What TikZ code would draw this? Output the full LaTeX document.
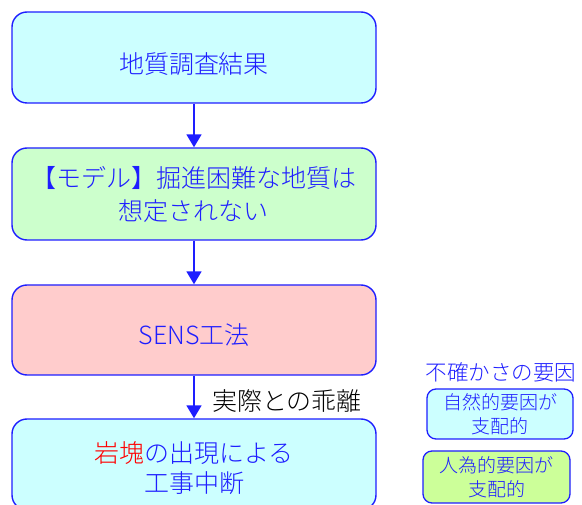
\documentclass[tikz,border=0pt]{standalone}
\usepackage{fontspec}
\setmainfont{Noto Sans CJK JP}[UprightFont=* Light]
\usetikzlibrary{arrows.meta}
\definecolor{bblue}{RGB}{30,30,255}
\definecolor{cyanfill}{RGB}{204,255,255}
\definecolor{greenfill}{RGB}{204,255,204}
\definecolor{pinkfill}{RGB}{255,204,204}
\definecolor{limefill}{RGB}{204,255,153}
\newcommand\boxlines[2]{\raisebox{#1}[\height][\depth]{\begin{tabular}{@{}c@{}}#2\end{tabular}}}
\tikzset{
  mainbox/.style={draw=bblue, line width=1.4pt, rounded corners=15pt,
    minimum width=364pt, inner sep=0pt, align=center, text=bblue,
    font=\fontsize{25}{33}\selectfont},
  smallbox/.style={draw=bblue, line width=1.3pt, rounded corners=9pt,
    minimum width=146pt, minimum height=50pt, inner sep=0pt, align=center, text=bblue,
    font=\fontsize{19}{24}\selectfont},
  flow/.style={draw=bblue, line width=1.8pt, -{Triangle[width=15pt,length=13pt]}}
}
\begin{document}
\begin{tikzpicture}[x=1pt,y=-1pt]
\useasboundingbox (0,0) rectangle (582,505);
\clip (0,0) rectangle (582,505);
\node[mainbox, fill=cyanfill, minimum height=91pt] (b1) at (194,57.5) {\boxlines{-9pt}{地質調査結果}};
\node[mainbox, fill=greenfill, minimum height=92pt] (b2) at (194,194) {\boxlines{-3.5pt}{【モデル】掘進困難な地質は\\想定されない}};
\node[mainbox, fill=pinkfill, minimum height=90pt] (b3) at (194,330) {\boxlines{-8pt}{SENS工法}};
\node[mainbox, fill=cyanfill, minimum height=91pt, font=\fontsize{25}{30}\selectfont] (b4) at (194,464.5) {\boxlines{-7pt}{\textcolor{red}{岩塊}の出現による\\工事中断}};
\draw[flow] (b1) -- (b2);
\draw[flow] (b2) -- (b3);
\draw[flow] (b3) -- (b4);
\node[anchor=west, inner sep=0pt, font=\fontsize{25}{30}\selectfont] (gap) at (212,401) {実際との乖離};
\node[inner sep=0pt, text=bblue, font=\fontsize{21.5}{26}\selectfont] (unc) at (501,372) {不確かさの要因};
\node[smallbox, fill=cyanfill] (na) at (500,414) {自然的要因が\\支配的};
\node[smallbox, fill=limefill, minimum height=52pt, minimum width=147pt] (hu) at (496.5,477) {人為的要因が\\支配的};
\end{tikzpicture}
\end{document}
